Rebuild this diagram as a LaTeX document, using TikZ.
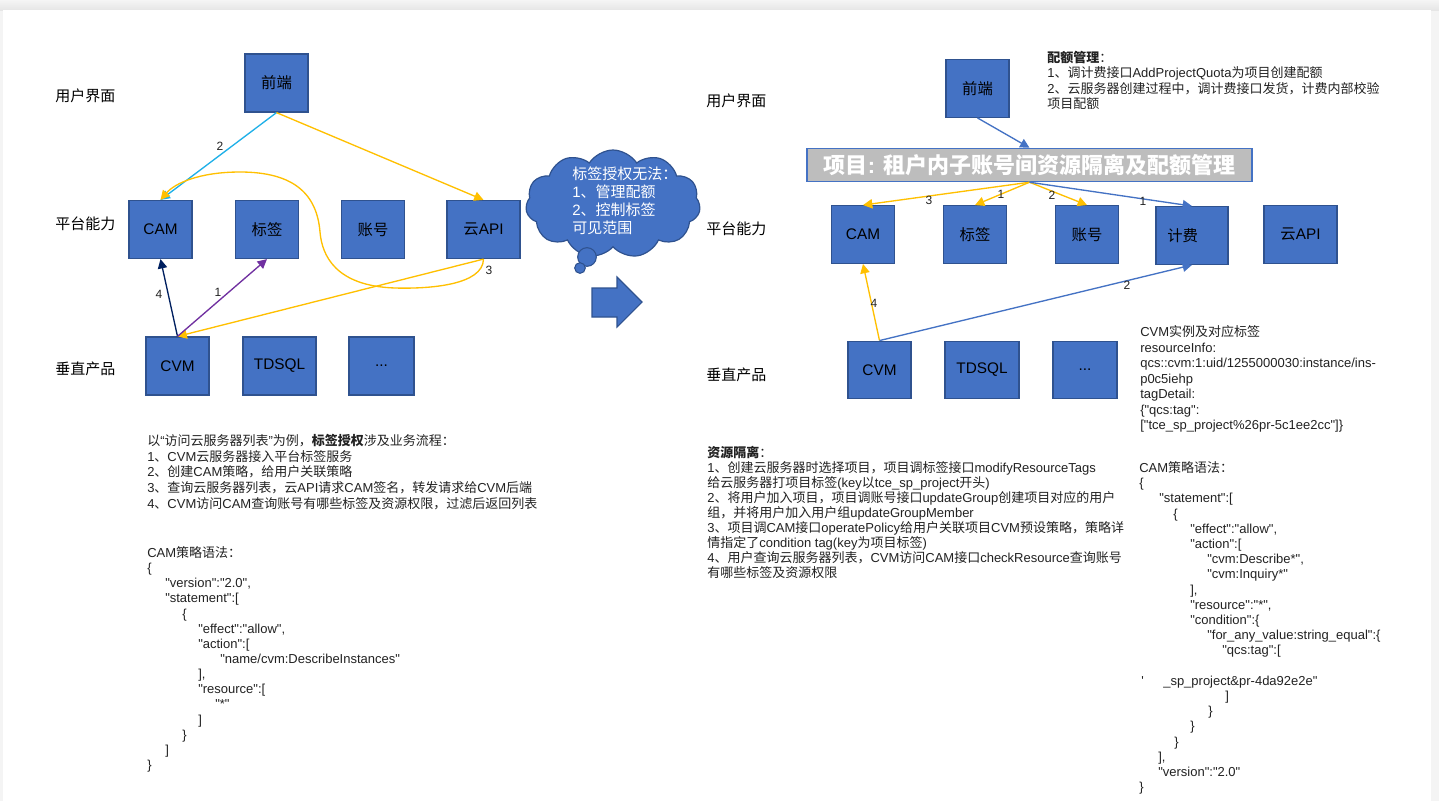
\documentclass[tikz,border=0pt]{standalone}
\usepackage{fontspec}
\newfontfamily\latinfont{Liberation Sans}
\newfontfamily\cjkfont{Noto Sans CJK SC}
\usetikzlibrary{arrows.meta,shapes.symbols}
\XeTeXinterchartokenstate=1
\newXeTeXintercharclass\cjkclass
\newcount\cjkc
\cjkc="3000 \loop\XeTeXcharclass\cjkc=\cjkclass\advance\cjkc by 1\relax\ifnum\cjkc<"3040 \repeat
\cjkc="4E00 \loop\XeTeXcharclass\cjkc=\cjkclass\advance\cjkc by 1\relax\ifnum\cjkc<"A000 \repeat
\cjkc="FF00 \loop\XeTeXcharclass\cjkc=\cjkclass\advance\cjkc by 1\relax\ifnum\cjkc<"FFF0 \repeat
\XeTeXinterchartoks 0 \cjkclass = {\begingroup\cjkfont}
\XeTeXinterchartoks 4095 \cjkclass = {\begingroup\cjkfont}
\XeTeXinterchartoks \cjkclass 0 = {\endgroup}
\XeTeXinterchartoks \cjkclass 4095 = {\endgroup}
\definecolor{boxblue}{HTML}{4472C4}
\definecolor{boxedge}{HTML}{2F528F}
\definecolor{yel}{HTML}{FFC000}
\definecolor{cyanc}{HTML}{1FB0E8}
\definecolor{navyc}{HTML}{002060}
\definecolor{purp}{HTML}{7030A0}
\definecolor{bluel}{HTML}{4472C4}
\definecolor{bargray}{HTML}{BDBDBD}
\definecolor{txtc}{HTML}{222222}
\definecolor{pagegray}{HTML}{F4F4F4}
\tikzset{
  box/.style={draw=boxedge, fill=boxblue, line width=0.9pt, minimum width=47.25pt, minimum height=43.25pt, inner sep=0pt, font=\latinfont\fontsize{11.5}{13}\selectfont, text=black},
  rowlbl/.style={anchor=west, inner sep=0pt, font=\latinfont\fontsize{11.25}{13}\selectfont, text=black},
  arr/.style={line width=1pt, -{Triangle[length=7pt,width=7pt]}},
  lbl/.style={inner sep=0pt, font=\latinfont\fontsize{9}{10}\selectfont, text=txtc},
  tl/.style={anchor=base west, inner sep=0pt, font=\latinfont\fontsize{9.75}{11.7}\selectfont, text=txtc},
}
\begin{document}
\begin{tikzpicture}[x=0.75pt,y=-0.75pt]
\useasboundingbox (0,0) rectangle (1439,801);
\fill[pagegray] (0,0) rectangle (1439,801);
\shade[top color=white!96!black, bottom color=white!90!black] (0,0) rectangle (1439,10);
\fill[white] (3,10) rectangle (1431,801);

% ---------------- left diagram ----------------
\node[rowlbl] (uiL) at (55,96) {用户界面};
\node[rowlbl] (ptL) at (55,224) {平台能力};
\node[rowlbl] (vpL) at (55,369) {垂直产品};

\node[box, minimum height=43.5pt] (qdL) at (276.5,83) {前端};
\node[box, minimum height=43.5pt] (camL) at (160.5,229.5) {CAM};
\node[box, minimum height=43.5pt] (tagL) at (267,229.5) {标签};
\node[box, minimum height=43.5pt] (accL) at (373,229.5) {账号};
\node[box, minimum height=43.5pt, minimum width=54.75pt] (apiL) at (483.5,229.5) {云API};
\node[box, minimum height=43.5pt] (cvmL) at (177.5,366) {CVM};
\node[box, minimum height=43.5pt, minimum width=54.75pt] (sqlL) at (279.5,366) {TDSQL};
\node[box, minimum height=43.5pt, minimum width=48.75pt] (dotL) at (381.5,366) {...};

\draw[arr, cyanc] (qdL.south) -- (camL.north);
\draw[arr, yel] (qdL.south) -- (apiL.north);
\draw[arr, yel] (apiL.south) .. controls (483,285) and (430,289) .. (395,288)
   .. controls (335,286) and (322,255) .. (320,232)
   .. controls (317,195) and (295,172) .. (240,172)
   .. controls (200,172) and (175,183) .. (camL.north);
\draw[arr, yel] (apiL.south) -- (cvmL.north);
\draw[arr, navyc] (cvmL.north) -- (camL.south);
\draw[arr, purp] (cvmL.north) -- (tagL.south);

\node[lbl] (l2L) at (220,146) {2};
\node[lbl] (l3L) at (489,270) {3};
\node[lbl] (l4L) at (159,294) {4};
\node[lbl] (l1L) at (218,292) {1};

% cloud
\node[cloud, cloud puffs=11, cloud puff arc=115, cloud ignores aspect, fill=boxblue, draw=boxedge, line width=0.9pt, minimum width=131pt, minimum height=81pt, inner sep=0pt] (cloud) at (613,204) {};
\node[circle, fill=boxblue, draw=boxedge, line width=0.8pt, minimum size=14pt, inner sep=0pt] (bub1) at (587,257) {};
\node[circle, fill=boxblue, draw=boxedge, line width=0.8pt, minimum size=8pt, inner sep=0pt] (bub2) at (580,268) {};
\node[anchor=west, inner sep=0pt, align=left, text=white, font=\latinfont\fontsize{11.25}{13.5}\selectfont] (ctxt) at (572,200.5) {标签授权无法：\\1、管理配额\\2、控制标签\\可见范围};

% big arrow
\draw[fill=boxblue, draw=boxedge, line width=0.8pt] (592,288) -- (617,288) -- (617,277) -- (642,302) -- (617,327) -- (617,317) -- (592,317) -- cycle;

% ---------------- right diagram ----------------
\node[rowlbl] (uiR) at (706,101) {用户界面};
\node[rowlbl] (ptR) at (706,229) {平台能力};
\node[rowlbl] (vpR) at (706,375) {垂直产品};

\node[box] (qdR) at (977.5,88.5) {前端};
\node[box] (camR) at (863,234.5) {CAM};
\node[box] (tagR) at (975,234.5) {标签};
\node[box] (accR) at (1087,234.5) {账号};
\node[box, minimum width=54pt] (feeR) at (1192,235.5) {计费\hspace*{14pt}};
\node[box, minimum width=54.75pt] (apiR) at (1300.5,234.5) {云API};
\node[box] (cvmR) at (879.5,370) {CVM};
\node[box, minimum width=55.5pt] (sqlR) at (982,370) {TDSQL};
\node[box, minimum width=48pt] (dotR) at (1085,370) {...};

\node[draw=bluel, fill=bargray, line width=1.1pt, minimum width=333.75pt, minimum height=24.75pt, inner sep=0pt, text=white, font=\latinfont\fontsize{16.5}{18}\selectfont\bfseries] (bar) at (1029.5,165) {项目: 租户内子账号间资源隔离及配额管理};

\draw[arr, bluel] (qdR.south) -- (bar.north);
\draw[arr, yel] (bar.south) -- (camR.north);
\draw[arr, yel] (bar.south) -- (tagR.north);
\draw[arr, yel] (bar.south) -- (accR.north);
\draw[arr, bluel] (bar.south) -- (feeR.north);
\draw[arr, yel] (cvmR.north) -- (camR.south);
\draw[arr, bluel] (cvmR.north) -- (feeR.south);

\node[lbl] (l3R) at (929,200) {3};
\node[lbl] (l1R) at (1001,194) {1};
\node[lbl] (l2R) at (1052,195) {2};
\node[lbl] (l1bR) at (1143,201) {1};
\node[lbl] (l4R) at (874,303) {4};
\node[lbl] (l2bR) at (1127,285) {2};

% ---------------- texts ----------------
\node[tl] (a1) at (147,445.5) {以“访问云服务器列表”为例，\textbf{标签授权}涉及业务流程：};
\node[tl] (a2) at (147,461.5) {1、CVM云服务器接入平台标签服务};
\node[tl] (a3) at (147,476.5) {2、创建CAM策略，给用户关联策略};
\node[tl] (a4) at (147,492.5) {3、查询云服务器列表，云API请求CAM签名，转发请求给CVM后端};
\node[tl] (a5) at (147,508.5) {4、CVM访问CAM查询账号有哪些标签及资源权限，过滤后返回列表};

\node[tl] (b1) at (147,557.5) {CAM策略语法：};
\node[tl] (b2) at (147,572.6) {\{};
\node[tl] (b3) at (165,587.8) {"version":"2.0",};
\node[tl] (b4) at (165,602.9) {"statement":[};
\node[tl] (b5) at (182,618.1) {\{};
\node[tl] (b6) at (198,633.2) {"effect":"allow",};
\node[tl] (b7) at (198,648.3) {"action":[};
\node[tl] (b8) at (220,663.5) {"name/cvm:DescribeInstances"};
\node[tl] (b9) at (198,678.6) {],};
\node[tl] (b10) at (198,693.8) {"resource":[};
\node[tl] (b11) at (215,708.9) {"*"};
\node[tl] (b12) at (198,724) {]};
\node[tl] (b13) at (182,739.2) {\}};
\node[tl] (b14) at (165,754.3) {]};
\node[tl] (b15) at (147,769.5) {\}};

\node[tl] (c1) at (1047,62) {\textbf{配额管理}：};
\node[tl] (c2) at (1047,77.5) {1、调计费接口AddProjectQuota为项目创建配额};
\node[tl] (c3) at (1047,93) {2、云服务器创建过程中，调计费接口发货，计费内部校验};
\node[tl] (c4) at (1047,108.5) {项目配额};

\node[tl] (d1) at (1140,336.5) {CVM实例及对应标签};
\node[tl] (d2) at (1140,352) {resourceInfo:};
\node[tl] (d3) at (1140,367.5) {qcs::cvm:1:uid/1255000030:instance/ins-};
\node[tl] (d4) at (1140,383) {p0c5iehp};
\node[tl] (d5) at (1140,398.5) {tagDetail:};
\node[tl] (d6) at (1140,414) {\{"qcs:tag":};
\node[tl] (d7) at (1140,429.5) {["tce\_sp\_project\%26pr-5c1ee2cc"]\}};

\node[tl] (e1) at (707,457.5) {\textbf{资源隔离}：};
\node[tl] (e2) at (707,472.5) {1、创建云服务器时选择项目，项目调标签接口modifyResourceTags};
\node[tl] (e3) at (707,487.5) {给云服务器打项目标签(key以tce\_sp\_project开头)};
\node[tl] (e4) at (707,502.5) {2、将用户加入项目，项目调账号接口updateGroup创建项目对应的用户};
\node[tl] (e5) at (707,517.5) {组，并将用户加入用户组updateGroupMember};
\node[tl] (e6) at (707,532.5) {3、项目调CAM接口operatePolicy给用户关联项目CVM预设策略，策略详};
\node[tl] (e7) at (707,547.5) {情指定了condition tag(key为项目标签)};
\node[tl] (e8) at (707,562.5) {4、用户查询云服务器列表，CVM访问CAM接口checkResource查询账号};
\node[tl] (e9) at (707,577.5) {有哪些标签及资源权限};

\node[tl] (f1) at (1139,472.5) {CAM策略语法：};
\node[tl] (f2) at (1139,487.7) {\{};
\node[tl] (f3) at (1159,502.9) {"statement":[};
\node[tl] (f4) at (1173,518.1) {\{};
\node[tl] (f5) at (1190,533.3) {"effect":"allow",};
\node[tl] (f6) at (1190,548.5) {"action":[};
\node[tl] (f7) at (1207,563.7) {"cvm:Describe*",};
\node[tl] (f8) at (1207,578.9) {"cvm:Inquiry*"};
\node[tl] (f9) at (1190,594.1) {],};
\node[tl] (f10) at (1190,609.3) {"resource":"*",};
\node[tl] (f11) at (1190,624.5) {"condition":\{};
\node[tl] (f12) at (1207,639.7) {"for\_any\_value:string\_equal":\{};
\node[tl] (f13) at (1222,654.9) {"qcs:tag":[};
\node[tl] (f14a) at (1141,685.3) {'};
\node[tl] (f14) at (1163,685.3) {\_sp\_project\&pr-4da92e2e"};
\node[tl] (f15) at (1225,700.5) {]};
\node[tl] (f16) at (1208,715.7) {\}};
\node[tl] (f17) at (1190,730.9) {\}};
\node[tl] (f18) at (1174,746.1) {\}};
\node[tl] (f19) at (1158,761.3) {],};
\node[tl] (f20) at (1158,776.5) {"version":"2.0"};
\node[tl] (f21) at (1139,791.7) {\}};
\end{tikzpicture}
\end{document}
